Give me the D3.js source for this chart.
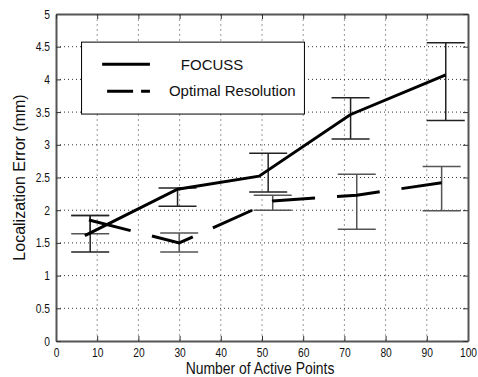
<!DOCTYPE html>
<html lang="en">
<head>
  <meta charset="UTF-8">
  <title>Localization Error vs Active Points</title>
  <script src="https://d3js.org/d3.v7.min.js"></script>
  <style>
    body { margin: 0; background: #fff; }
    text { font-family: "Liberation Sans", Arial, sans-serif; fill: #111; }
  </style>
</head>
<body>
  <div id="chart"></div>
  <script>
    // axis ticks
    const xTicks = [0, 10, 20, 30, 40, 50, 60, 70, 80, 90, 100];
    const yTicks = [0, 0.5, 1, 1.5, 2, 2.5, 3, 3.5, 4, 4.5, 5];
    const yTickLabels = ["0", "0.5", "1", "1.5", "2", "2.5", "3", "3.5", "4", "4.5", "5"];

    // FOCUSS (solid)
    const focussX = [7, 29.5, 49.3, 71.4, 94.6];
    const focussY = [1.61, 2.32, 2.52, 3.46, 4.07];
    const focussErrX = [8.3, 29.5, 51.5, 71.5, 94.6];
    const focussLo = [1.36, 2.06, 2.28, 3.09, 3.37];
    const focussHi = [1.92, 2.34, 2.87, 3.72, 4.56];

    // Optimal Resolution (dashed)
    const optX = [8, 29.9, 52.6, 73, 93.6];
    const optY = [1.85, 1.50, 2.14, 2.23, 2.42];
    const optErrX = [8.3, 29.9, 52.6, 73, 93.6];
    const optLo = [1.64, 1.36, 2.0, 1.71, 1.99];
    const optHi = [1.92, 1.65, 2.23, 2.55, 2.67];

    const legendLabels = ["FOCUSS", "Optimal Resolution"];

    drawChart();

    function drawChart() {
      const width = 478, height = 377;
      const margin = { top: 14, right: 10, bottom: 36, left: 56 };

      const svg = d3.select("#chart").append("svg")
        .attr("width", width)
        .attr("height", height);

      const x = d3.scaleLinear().domain([0, 100]).range([margin.left, width - margin.right]);
      const y = d3.scaleLinear().domain([0, 5]).range([height - margin.bottom, margin.top]);

      // grid
      svg.append("g").selectAll("line")
        .data(xTicks.slice(1, -1))
        .enter().append("line")
        .attr("x1", d => x(d)).attr("x2", d => x(d))
        .attr("y1", y(0)).attr("y2", y(5))
        .attr("stroke", "#999").attr("stroke-width", 1)
        .attr("stroke-dasharray", "2,3");

      svg.append("g").selectAll("line")
        .data(yTicks.slice(1, -1))
        .enter().append("line")
        .attr("x1", x(0)).attr("x2", x(100))
        .attr("y1", d => y(d)).attr("y2", d => y(d))
        .attr("stroke", "#333").attr("stroke-width", 1)
        .attr("stroke-dasharray", "1,3");

      // error bars
      const cap = 19;
      function errorBars(xs, lo, hi, color) {
        const rows = xs.map((d, i) => ({ x: d, lo: lo[i], hi: hi[i] }));
        const g = svg.append("g").attr("stroke", color).attr("stroke-width", 1.5);
        g.selectAll(".v").data(rows).enter().append("line")
          .attr("x1", d => x(d.x)).attr("x2", d => x(d.x))
          .attr("y1", d => y(d.lo)).attr("y2", d => y(d.hi));
        g.selectAll(".lo").data(rows).enter().append("line")
          .attr("x1", d => x(d.x) - cap).attr("x2", d => x(d.x) + cap)
          .attr("y1", d => y(d.lo)).attr("y2", d => y(d.lo));
        g.selectAll(".hi").data(rows).enter().append("line")
          .attr("x1", d => x(d.x) - cap).attr("x2", d => x(d.x) + cap)
          .attr("y1", d => y(d.hi)).attr("y2", d => y(d.hi));
      }
      errorBars(optErrX, optLo, optHi, "#555");
      errorBars(focussErrX, focussLo, focussHi, "#222");

      // lines
      const line = d3.line().x(d => x(d[0])).y(d => y(d[1]));
      svg.append("path")
        .datum(optX.map((d, i) => [d, optY[i]]))
        .attr("d", line)
        .attr("fill", "none").attr("stroke", "#000").attr("stroke-width", 3)
        .attr("stroke-dasharray", "43,22");
      svg.append("path")
        .datum(focussX.map((d, i) => [d, focussY[i]]))
        .attr("d", line)
        .attr("fill", "none").attr("stroke", "#000").attr("stroke-width", 3);

      // axes (box with inward ticks)
      const axisColor = "#555";
      const bottom = svg.append("g")
        .attr("transform", `translate(0,${y(0)})`)
        .call(d3.axisBottom(x).tickValues(xTicks).tickSizeInner(-5).tickSizeOuter(0).tickPadding(7));
      bottom.selectAll("text").attr("font-size", 12.5)
        .attr("transform", "scale(0.82,1)");

      const left = svg.append("g")
        .attr("transform", `translate(${x(0)},0)`)
        .call(d3.axisLeft(y).tickValues(yTicks).tickFormat((d, i) => yTickLabels[i])
          .tickSizeInner(-5).tickSizeOuter(0).tickPadding(6));
      left.selectAll("text").attr("font-size", 12.5)
        .attr("x", null)
        .attr("transform", "translate(-6,0) scale(0.82,1)");

      svg.append("g")
        .attr("transform", `translate(0,${y(5)})`)
        .call(d3.axisTop(x).tickValues(xTicks).tickSizeInner(-5).tickSizeOuter(0).tickFormat(""));
      svg.append("g")
        .attr("transform", `translate(${x(100)},0)`)
        .call(d3.axisRight(y).tickValues(yTicks).tickSizeInner(-5).tickSizeOuter(0).tickFormat(""));

      svg.selectAll(".domain").attr("stroke", axisColor).attr("stroke-width", 2);
      svg.selectAll(".tick line").attr("stroke", "#333");

      // legend
      const lg = svg.append("g");
      lg.append("rect")
        .attr("x", x(6.2)).attr("y", y(4.57))
        .attr("width", x(60.3) - x(6.2)).attr("height", y(3.47) - y(4.57))
        .attr("fill", "#fff").attr("stroke", "#000").attr("stroke-width", 1);
      lg.append("line")
        .attr("x1", x(11.2)).attr("x2", x(22.8))
        .attr("y1", y(4.23)).attr("y2", y(4.23))
        .attr("stroke", "#000").attr("stroke-width", 3);
      lg.append("line")
        .attr("x1", x(12.4)).attr("x2", x(22.8))
        .attr("y1", y(3.82)).attr("y2", y(3.82))
        .attr("stroke", "#000").attr("stroke-width", 3)
        .attr("stroke-dasharray", "26,8");
      lg.selectAll("text.lab").data(legendLabels).enter().append("text")
        .attr("class", "lab")
        .attr("x", (d, i) => i === 0 ? x(30.3) : x(27.4))
        .attr("y", (d, i) => i === 0 ? y(4.23) : y(3.82))
        .attr("dy", "0.35em")
        .attr("font-size", 15)
        .text(d => d);

      // axis titles
      svg.append("text")
        .attr("transform", `translate(${(x(0) + x(100)) / 2 - 2},${height - 3}) scale(0.9,1.05)`)
        .attr("text-anchor", "middle")
        .attr("font-size", 15.5)
        .text("Number of Active Points");

      svg.append("text")
        .attr("transform", `translate(19,${(y(0) + y(5)) / 2}) rotate(-90)`)
        .attr("text-anchor", "middle")
        .attr("dy", "0.35em")
        .attr("font-size", 16)
        .text("Localization Error (mm)");
    }
  </script>
</body>
</html>
